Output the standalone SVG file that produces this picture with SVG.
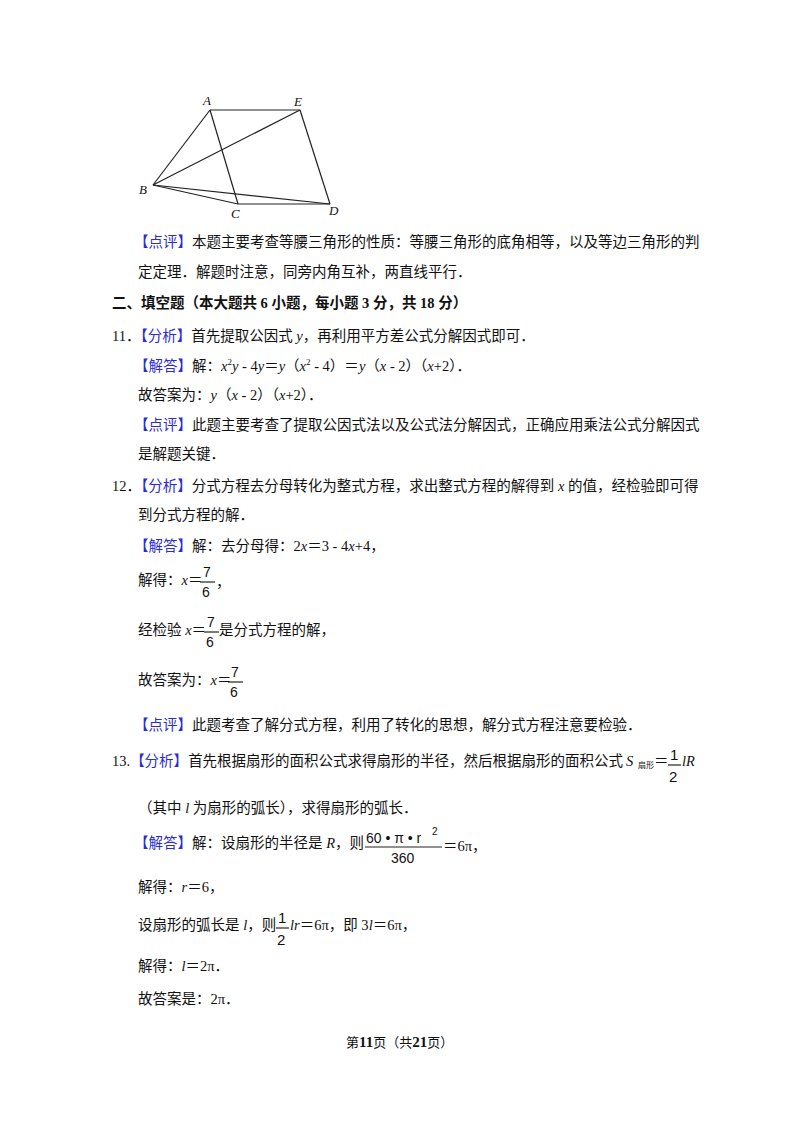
<svg xmlns="http://www.w3.org/2000/svg" width="800" height="1132" viewBox="0 0 800 1132">
<style>
text{font-family:"Liberation Serif","Noto Sans CJK SC",serif;font-size:14.5px;fill:#111}
.b{fill:#2b2bd0}
.i{font-style:italic}
.s{font-family:"Liberation Sans","Noto Sans CJK SC",sans-serif}
.l{font-size:13px}
.f{font-size:14px}
line{stroke:#222;stroke-width:1.2}
</style>
<rect width="800" height="1132" fill="#fff"/>
<g id="figure">
<line x1="210" y1="110" x2="300" y2="110"/>
<line x1="210" y1="110" x2="153" y2="185"/>
<line x1="210" y1="110" x2="238" y2="204"/>
<line x1="300" y1="110" x2="153" y2="185"/>
<line x1="300" y1="110" x2="330" y2="204"/>
<line x1="153" y1="185" x2="238" y2="204"/>
<line x1="153" y1="185" x2="330" y2="204"/>
<line x1="238" y1="204" x2="330" y2="204"/>
<text x="203" y="105" class="i l">A</text>
<text x="294" y="106" class="i l">E</text>
<text x="139" y="194" class="i l">B</text>
<text x="231" y="218" class="i l">C</text>
<text x="329" y="215" class="i l">D</text>
</g>
<text x="134" y="247"><tspan class="b">【点评】</tspan>本题主要考查等腰三角形的性质：等腰三角形的底角相等，以及等边三角形的判</text>
<text x="138" y="277">定定理．解题时注意，同旁内角互补，两直线平行．</text>
<text x="112" y="308" font-weight="bold">二、填空题（本大题共 6 小题，每小题 3 分，共 18 分）</text>
<text x="112" y="341">11．<tspan class="b">【分析】</tspan>首先提取公因式 <tspan class="i">y</tspan>，再利用平方差公式分解因式即可．</text>
<text x="134" y="371"><tspan class="b">【解答】</tspan>解：<tspan class="i">x</tspan><tspan font-size="9" dy="-6">2</tspan><tspan class="i" dy="6">y</tspan> - 4<tspan class="i">y</tspan>＝<tspan class="i">y</tspan>（<tspan class="i">x</tspan><tspan font-size="9" dy="-6">2</tspan><tspan dy="6"> - 4）＝</tspan><tspan class="i">y</tspan>（<tspan class="i">x</tspan> - 2）（<tspan class="i">x</tspan>+2）．</text>
<text x="138" y="400">故答案为：<tspan class="i">y</tspan>（<tspan class="i">x</tspan> - 2）（<tspan class="i">x</tspan>+2）．</text>
<text x="134" y="430"><tspan class="b">【点评】</tspan>此题主要考查了提取公因式法以及公式法分解因式，正确应用乘法公式分解因式</text>
<text x="138" y="459">是解题关键．</text>
<text x="112" y="491">12．<tspan class="b">【分析】</tspan>分式方程去分母转化为整式方程，求出整式方程的解得到 <tspan class="i">x</tspan> 的值，经检验即可得</text>
<text x="138" y="520">到分式方程的解．</text>
<text x="134" y="551"><tspan class="b">【解答】</tspan>解：去分母得：2<tspan class="i">x</tspan>＝3 - 4<tspan class="i">x</tspan>+4，</text>
<text x="138" y="585">解得：<tspan class="i">x</tspan>＝</text>
<text x="203" y="577" class="s f">7</text><line x1="200" y1="582" x2="215" y2="582" stroke-width="1"/><text x="202" y="597" class="s f">6</text><text x="216" y="587">，</text>
<text x="138" y="635">经检验 <tspan class="i">x</tspan>＝</text>
<text x="207" y="627" class="s f">7</text><line x1="204" y1="632" x2="219" y2="632" stroke-width="1"/><text x="206" y="647" class="s f">6</text><text x="219" y="635">是分式方程的解，</text>
<text x="138" y="685">故答案为：<tspan class="i">x</tspan>＝</text>
<text x="231" y="677" class="s f">7</text><line x1="228" y1="682" x2="243" y2="682" stroke-width="1"/><text x="230" y="697" class="s f">6</text>
<text x="134" y="730"><tspan class="b">【点评】</tspan>此题考查了解分式方程，利用了转化的思想，解分式方程注意要检验．</text>
<text x="112" y="766">13.<tspan class="b">【分析】</tspan>首先根据扇形的面积公式求得扇形的半径，然后根据扇形的面积公式</text>
<text x="626" y="766" class="i">S</text><text x="638" y="768" style="font-size:8px">扇形</text><text x="654" y="766">＝</text>
<text x="670" y="760" class="s" style="font-size:15px">1</text><line x1="668" y1="765" x2="681" y2="765" stroke-width="1"/><text x="669" y="782" class="s" style="font-size:15px">2</text><text x="682" y="766" class="i">lR</text>
<text x="138" y="813">（其中 <tspan class="i">l</tspan> 为扇形的弧长），求得扇形的弧长．</text>
<text x="134" y="848"><tspan class="b">【解答】</tspan>解：设扇形的半径是 <tspan class="i">R</tspan>，则</text>
<text x="366" y="843" class="s f">60 • π • r</text><text x="432" y="835" class="s" style="font-size:10px">2</text>
<line x1="365" y1="847" x2="442" y2="847" stroke-width="1"/>
<text x="391" y="863" class="s f">360</text>
<text x="443" y="851">＝6π，</text>
<text x="138" y="892">解得：<tspan class="i">r</tspan>＝6，</text>
<text x="138" y="930">设扇形的弧长是 <tspan class="i">l</tspan>，则</text>
<text x="278" y="923" class="s" style="font-size:15px">1</text><line x1="276" y1="928" x2="289" y2="928" stroke-width="1"/><text x="277" y="945" class="s" style="font-size:15px">2</text>
<text x="290" y="930"><tspan class="i">lr</tspan>＝6π，即 3<tspan class="i">l</tspan>＝6π，</text>
<text x="138" y="971">解得：<tspan class="i">l</tspan>＝2π．</text>
<text x="138" y="1004">故答案是：2π．</text>
<text x="346" y="1047" style="font-size:13px">第<tspan font-weight="bold" font-size="15">11</tspan>页（共<tspan font-weight="bold" font-size="15">21</tspan>页）</text>
</svg>
